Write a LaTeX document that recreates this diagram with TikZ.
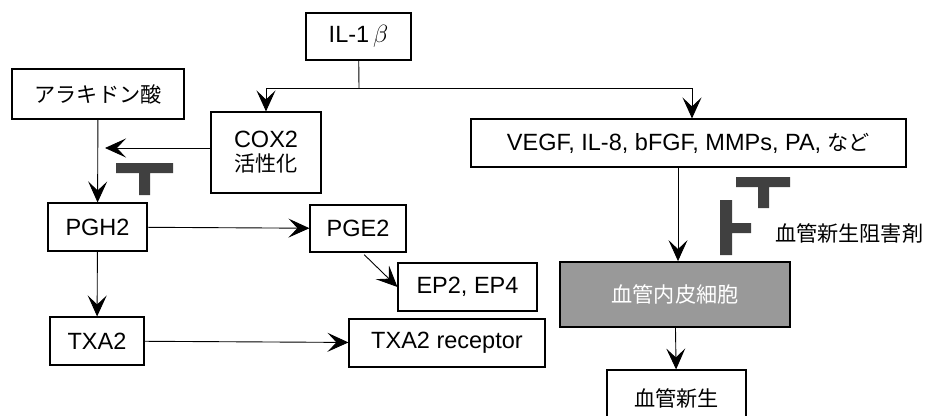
\documentclass[tikz,border=0pt]{standalone}
\usepackage{fontspec}
\setmainfont{Liberation Sans}
\newfontfamily\jp{Noto Sans CJK JP}[Scale=0.9]
\usetikzlibrary{arrows.meta, positioning}

\tikzset{
    box/.style={draw, rectangle, line width=1.1pt, inner sep=0pt, align=center},
    arr/.style={line width=0.9pt, -{Stealth[length=21pt, width=19pt, inset=9pt]}},
    blocker/.style={fill=black!75}
}

\begin{document}
\begin{tikzpicture}[x=1pt, y=-1pt, font=\fontsize{23.5}{27}\selectfont]

            \useasboundingbox (0,0) rectangle (926,415);

            % left pathway
            \node[box, minimum width=105pt, minimum height=47pt] (il) at (358.5,36.5) {IL-1\,$\beta$};
            \node[box, minimum width=172pt, minimum height=50pt] (ara) at (98,94) {\jp アラキドン酸};
            \node[box, minimum width=110pt, minimum height=81pt] (cox) at (266,152.5) {COX2\\[-3pt]{\jp 活性化}};
            \node[box, minimum width=99pt, minimum height=48pt] (pgh) at (97.5,227) {PGH2};
            \node[box, minimum width=96pt, minimum height=47pt] (pge) at (358,228.5) {PGE2};
            \node[box, minimum width=139pt, minimum height=48pt] (ep) at (467.5,287) {EP2, EP4};
            \node[box, minimum width=94pt, minimum height=48pt] (txa) at (97,341) {TXA2};
            \node[box, minimum width=196pt, minimum height=48pt] (txr) at (447,343) {TXA2 receptor};

            % right pathway
            \node[box, minimum width=435pt, minimum height=48pt] (vegf) at (688.5,143) {VEGF, IL-8, bFGF, MMPs, PA, {\jp など}};
            \node[
                box,
                fill=black!40,
                text=white,
                line width=1.8pt,
                minimum width=230pt,
                minimum height=65pt
            ] (endo) at (675,294.5) {\jp 血管内皮細胞};
            \node[box, minimum width=139pt, minimum height=56pt] (ang) at (676.5,398) {\jp 血管新生};
            \node[anchor=west, inner sep=0pt] (inh) at (775,233) {\jp 血管新生阻害剤};

            \coordinate (split) at (359,88);
            \coordinate (coxtip) at (105,148);

            \draw[line width=0.9pt] (il) -- (split);
            \draw[arr] (split) -| (cox);
            \draw[arr] (split) -| ([xshift=3.5pt]vegf.north);
            \draw[arr] (cox.west |- coxtip) -- (coxtip);
            \draw[arr] (ara) -- (pgh);
            \draw[arr] (pgh) -- (pge);
            \draw[arr, shorten <=3pt] ([xshift=4pt]pge.south) -- (ep.west);
            \draw[arr] (pgh) -- (txa);
            \draw[arr] (txa) -- (txr);
            \draw[arr] ([xshift=3pt]endo.north |- vegf.south) -- ([xshift=3pt]endo.north);
            \draw[arr] (endo) -- (ang);

            % inhibitors
            \fill[blocker] (116,163) rectangle (173,173) (139,172) rectangle (150,195);
            \fill[blocker] (736,177) rectangle (790,187) (758,186) rectangle (769,208);
            \fill[blocker] (720,200) rectangle (732,255) (731,223) rectangle (751,233);

        \end{tikzpicture}
\end{document}
